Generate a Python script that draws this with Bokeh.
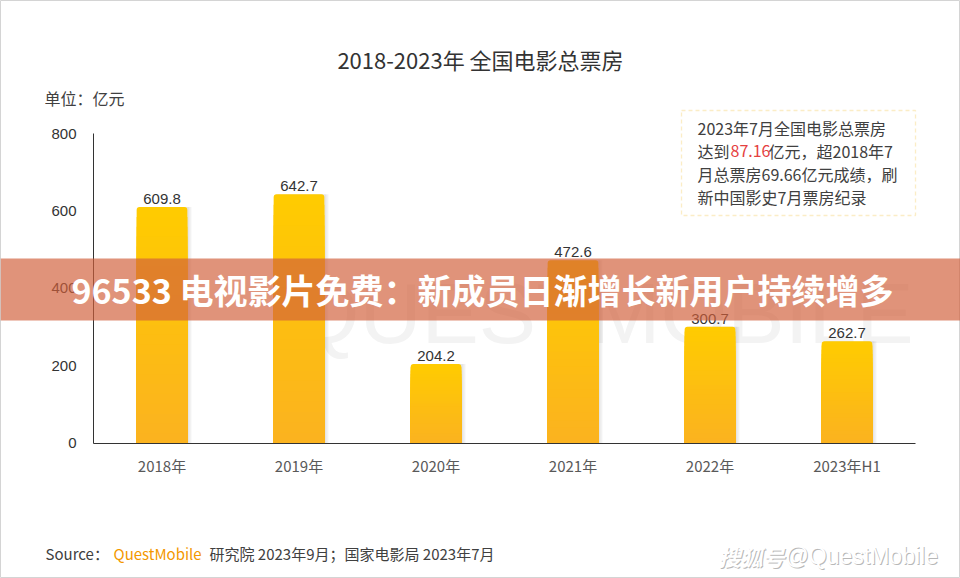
from bokeh.plotting import figure
from bokeh.models import Range1d, FixedTicker, Label, BoxAnnotation
from bokeh.core.properties import value
from bokeh.embed import file_html
from bokeh.resources import INLINE

# ---------------- data ----------------
categories = ["2018年", "2019年", "2020年", "2021年", "2022年", "2023年H1"]
box_office = [609.8, 642.7, 204.2, 472.6, 300.7, 262.7]
y_ticks = [0, 200, 400, 600, 800]

title_text = "2018-2023年 全国电影总票房"
unit_text = "单位：亿元"
banner_text = "96533 电视影片免费：新成员日渐增长新用户持续增多"
note_lines = ["2023年7月全国电影总票房", "达到", "87.16", "亿元，超2018年7",
              "月总票房69.66亿元成绩，刷", "新中国影史7月票房纪录"]

CJK = "Noto Sans CJK SC"
ARIAL = "Liberation Sans"

# ---------------- layout geometry (pixels) ----------------
W, H = 960, 578
AX_X = 93          # pixel x of the y axis line
AX_Y = 442.5       # pixel y of the value 0
TOP_Y = 133        # pixel y of the value 800
CAT_PX = 137       # pixel width of one category slot
YMAX = 800
per_px = YMAX / (AX_Y - TOP_Y)

x_lo = -AX_X / CAT_PX
x_hi = (W - AX_X) / CAT_PX
y_hi = AX_Y * per_px
y_lo = -(H - AX_Y) * per_px

xs = [i + 0.5 for i in range(len(categories))]

p = figure(width=W, height=H,
           x_range=Range1d(x_lo, x_hi), y_range=Range1d(y_lo, y_hi),
           output_backend="svg", toolbar_location=None,
           min_border=0, min_border_left=0, min_border_right=0,
           min_border_top=0, min_border_bottom=0)
p.outline_line_color = "#D4D4D4"
p.outline_line_width = 1
p.xgrid.visible = False
p.ygrid.visible = False
p.background_fill_color = "white"
p.border_fill_color = "white"

# axes drawn at data locations inside the frame
p.yaxis.fixed_location = 0
p.yaxis.bounds = (0, YMAX)
p.yaxis.ticker = FixedTicker(ticks=y_ticks)
p.yaxis.major_tick_in = 0
p.yaxis.major_tick_out = 0
p.yaxis.minor_tick_line_color = None
p.yaxis.axis_line_color = "#333333"
p.yaxis.major_label_text_font = ARIAL
p.yaxis.major_label_text_font_size = "15px"
p.yaxis.major_label_text_color = "#333333"
p.yaxis.major_label_standoff = 17

p.xaxis.fixed_location = 0
p.xaxis.bounds = (0, len(categories))
p.xaxis.ticker = FixedTicker(ticks=xs)
p.xaxis.major_label_overrides = {x: c for x, c in zip(xs, categories)}
p.xaxis.major_tick_in = 0
p.xaxis.major_tick_out = 0
p.xaxis.minor_tick_line_color = None
p.xaxis.axis_line_color = "#333333"
p.xaxis.major_label_text_font = CJK
p.xaxis.major_label_text_font_size = "15px"
p.xaxis.major_label_text_color = "#595959"
p.xaxis.major_label_standoff = 12

def sx(xr):
    return xr

def sy(yr):
    return H - yr

# faint watermark
p.add_layout(Label(x=sx(292), y=sy(312), x_units="screen", y_units="screen",
                   text="QUESTMOBILE", text_font=ARIAL, text_font_size="86px",
                   text_color="#F3F3F3", text_align="left", text_baseline="alphabetic",
                   level="underlay"))

# bar shadows
p.vbar(x=[x + 0.03 for x in xs], top=box_office, width=0.37, fill_color="black",
       fill_alpha=0.05, line_color=None)
p.vbar(x=[x + 0.015 for x in xs], top=box_office, width=0.37, fill_color="black",
       fill_alpha=0.05, line_color=None)

# gradient bars (stacked layers from top colour to bottom colour)
top_c = (255, 204, 0)
bot_c = (251, 178, 32)
N = 24
for k in range(N):
    frac = (N - k) / N
    t = (k + 0.5) / N
    c = tuple(int(round(a + (b - a) * t)) for a, b in zip(top_c, bot_c))
    col = "#%02x%02x%02x" % c
    kw = dict(border_radius=3) if k == 0 else {}
    p.vbar(x=xs, top=[v * frac for v in box_office], width=0.37,
           fill_color=col, line_color=None, **kw)

# value labels
p.text(x=xs, y=box_office, text=["%.1f" % v for v in box_office],
       text_align="center", text_baseline="bottom", y_offset=-3,
       text_font=value(ARIAL), text_font_size="15px", text_color="#333333")

def lab(x, y, text, size="15px", color="#404040", font=CJK, align="left",
        baseline="middle", style="normal"):
    p.add_layout(Label(x=sx(x), y=sy(y), x_units="screen", y_units="screen",
                       text=text, text_font=font, text_font_size=size,
                       text_color=color, text_align=align, text_baseline=baseline,
                       text_font_style=style))

# title and unit
lab(480, 58, title_text, size="22px", color="#333333", align="center")
lab(44, 97, unit_text, size="16px", color="#404040")

# note box
p.add_layout(BoxAnnotation(left=sx(681), right=sx(915), top=sy(110), bottom=sy(215),
                           left_units="screen", right_units="screen",
                           top_units="screen", bottom_units="screen",
                           fill_color=None, line_color="#F3C443", line_width=1.3,
                           line_dash="4 3"))
lab(697, 127, note_lines[0], size="16px")
lab(697, 150, note_lines[1], size="16px")
lab(730, 150, note_lines[2], size="16px", color="#E5403F")
lab(768, 150, note_lines[3], size="16px")
lab(697, 173, note_lines[4], size="16px")
lab(697, 196, note_lines[5], size="16px")

# source
lab(45, 553, "Source：", size="15px")
lab(113, 553, "QuestMobile", size="15px", color="#F39800")
lab(209, 553, "研究院 2023年9月；国家电影局 2023年7月", size="15px")

# sohu watermark
lab(719, 556, "搜狐号", size="22px", color="#B8B8B8", style="bold italic")
lab(718, 555, "搜狐号", size="22px", color="#FFFFFF", style="bold italic")
lab(786, 556, "@QuestMobile", size="23px", color="#B8B8B8", font=ARIAL)
lab(785, 555, "@QuestMobile", size="23px", color="#FFFFFF", font=ARIAL)

# banner overlay
p.add_layout(BoxAnnotation(left=sx(0), right=sx(W), top=sy(258), bottom=sy(320),
                           left_units="screen", right_units="screen",
                           top_units="screen", bottom_units="screen",
                           fill_color="#D1603B", fill_alpha=0.68, line_color=None))
lab(482, 289, banner_text, size="34px", color="#FFFFFF", align="center", style="bold")

open("out.html", "w").write(file_html(p, INLINE))
